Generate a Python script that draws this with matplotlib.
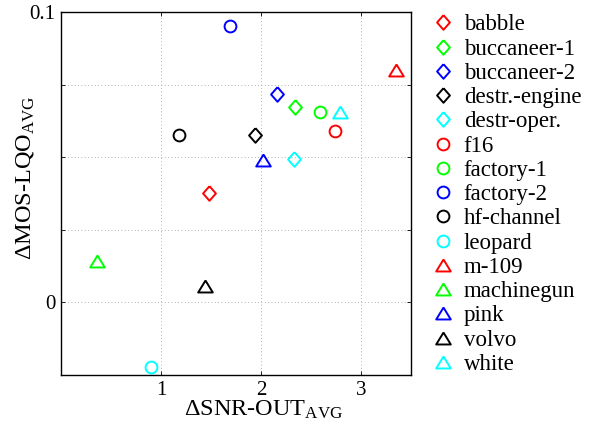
import numpy as np
import matplotlib
matplotlib.use("Agg")
import matplotlib.pyplot as plt

plt.rcParams['font.family'] = ['Liberation Serif', 'DejaVu Serif']
plt.rcParams['mathtext.fontset'] = 'custom'
plt.rcParams['mathtext.rm'] = 'Liberation Serif'
plt.rcParams['mathtext.it'] = 'Liberation Serif:italic'

# noise types
names = ["babble", "buccaneer-1", "buccaneer-2", "destr.-engine", "destr-oper.",
         "f16", "factory-1", "factory-2", "hf-channel", "leopard",
         "m-109", "machinegun", "pink", "volvo", "white"]
snr_out = [1.48, 2.34, 2.16, 1.94, 2.33,
           2.74, 2.59, 1.685, 1.177, 0.897,
           3.35, 0.356, 2.02, 1.44, 2.79]
mos_lqo = [0.0378, 0.0673, 0.0716, 0.0577, 0.0494,
           0.0591, 0.0656, 0.0951, 0.0575, -0.0222,
           0.0800, 0.0142, 0.0490, 0.0056, 0.0657]

colors = ['#ff0000', '#00ff00', '#0000ff', '#000000', '#00ffff']
diamond = [(0, 1), (0.88, 0), (0, -1), (-0.88, 0), (0, 1)]
triangle = [(0, 0.82), (1, -0.82), (-1, -0.82), (0, 0.82)]
markers = [diamond, 'o', triangle]
sizes = [10.5, 8.5, 10.5]

fig = plt.figure(figsize=(5.93, 4.21), dpi=100)
ax = fig.add_axes([0.1029, 0.1093, 0.5902, 0.8622])

for i, name in enumerate(names):
    m = i // 5
    ax.plot(snr_out[i], mos_lqo[i], linestyle='none', marker=markers[m],
            markersize=sizes[m], markerfacecolor='none',
            markeredgecolor=colors[i % 5], markeredgewidth=1.4, label=name)

ax.set_xlim(0, 3.5)
ax.set_ylim(-0.025, 0.1)
ax.set_xticks([1, 2, 3])
ax.set_xticklabels(['1', '2', '3'])
ax.set_yticks([0, 0.025, 0.05, 0.075, 0.1])
ax.set_yticklabels(['0', '', '', '', '0.1'])
ax.tick_params(direction='in', length=3, width=0.6, top=True, right=True,
               labelsize=15, pad=4)
ax.grid(True, linestyle=(0, (1, 3)), color='#999999', linewidth=0.6)
for s in ax.spines.values():
    s.set_linewidth(1.0)

ax.set_xlabel(r'$\Delta$SNR-OUT$_{\mathrm{AVG}}$', fontsize=17.5)
ax.set_ylabel(r'$\Delta$MOS-LQO$_{\mathrm{AVG}}$', fontsize=17.5)
ax.xaxis.set_label_coords(0.58, -0.065)
ax.yaxis.set_label_coords(-0.072, 0.543)

fig.legend(loc='upper left', bbox_to_anchor=(0.728, 0.966), frameon=False,
           fontsize=16.5, handlelength=1.0, handletextpad=0.4,
           labelspacing=0.14, borderpad=0, borderaxespad=0)

fig.savefig("out.png", dpi=100)
